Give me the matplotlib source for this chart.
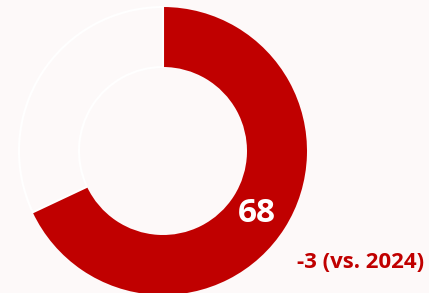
import matplotlib.pyplot as plt

value = 68
rest = 100 - value
change_label = "-3 (vs. 2024)"
bg = "#FDF9F9"
colors = ["#C00000", bg]

fig = plt.figure(figsize=(4.29, 2.93), dpi=100)
fig.patch.set_facecolor(bg)
ax = fig.add_axes([0, 0, 1, 1])
ax.set_facecolor(bg)
ax.set_xlim(0, 429)
ax.set_ylim(0, 293)
ax.set_aspect("equal")
ax.axis("off")

wedges, _ = ax.pie([value, rest], colors=colors, startangle=90, counterclock=False,
                   center=(163, 142), radius=144,
                   wedgeprops=dict(width=60, edgecolor="white", linewidth=1.5))
wedges[0].set_edgecolor("none")
ax.set_xlim(0, 429)
ax.set_ylim(0, 293)

ax.text(257, 80, str(value), color="white", fontsize=24, fontweight="bold",
        family="Open Sans", ha="center", va="center")
ax.text(424, 31, change_label, color="#C00000", fontsize=16, fontweight="bold",
        family="Open Sans", ha="right", va="center")

fig.savefig("out.png", dpi=100, facecolor=fig.get_facecolor())
